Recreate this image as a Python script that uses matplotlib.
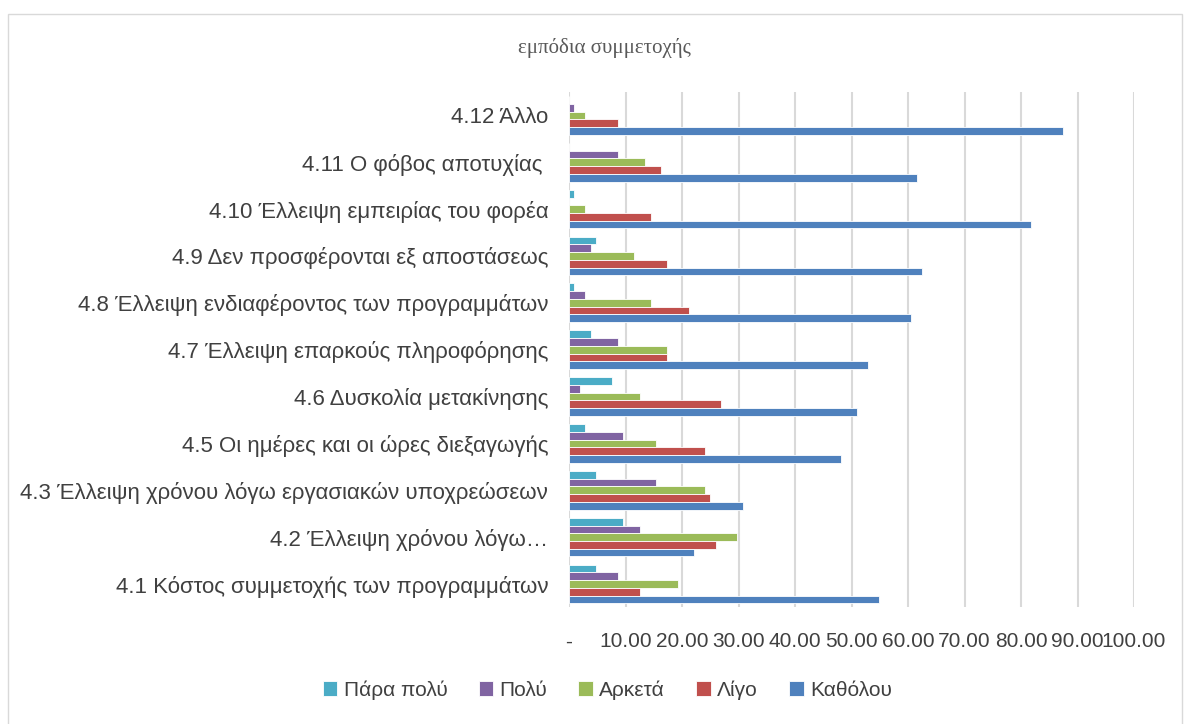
import matplotlib.pyplot as plt
import matplotlib.patches as patches
import numpy as np

plt.rcParams['font.family'] = ['Liberation Sans', 'DejaVu Sans']

# categories, bottom to top as drawn
categories = [
    '4.1 Κόστος συμμετοχής των προγραμμάτων',
    '4.2 Έλλειψη χρόνου λόγω…',
    '4.3 Έλλειψη χρόνου λόγω εργασιακών υποχρεώσεων',
    '4.5 Οι ημέρες και οι ώρες διεξαγωγής',
    '4.6 Δυσκολία μετακίνησης',
    '4.7 Έλλειψη επαρκούς πληροφόρησης',
    '4.8 Έλλειψη ενδιαφέροντος των προγραμμάτων',
    '4.9 Δεν προσφέρονται εξ αποστάσεως',
    '4.10 Έλλειψη εμπειρίας του φορέα',
    '4.11 Ο φόβος αποτυχίας ',
    '4.12 Άλλο',
]

para_poly = [4.81, 9.62, 4.81, 2.88, 7.69, 3.85, 0.96, 4.81, 0.96, 0.00, 0.00]
poly      = [8.65, 12.50, 15.38, 9.62, 1.92, 8.65, 2.88, 3.85, 0.00, 8.65, 0.96]
arketa    = [19.23, 29.81, 24.04, 15.38, 12.50, 17.31, 14.42, 11.54, 2.88, 13.46, 2.88]
ligo      = [12.50, 25.96, 25.00, 24.04, 26.92, 17.31, 21.15, 17.31, 14.42, 16.35, 8.65]
katholou  = [54.81, 22.12, 30.77, 48.08, 50.96, 52.88, 60.58, 62.50, 81.73, 61.54, 87.50]

series = [
    ('Πάρα πολύ', para_poly, '#4BACC6'),
    ('Πολύ', poly, '#8064A2'),
    ('Αρκετά', arketa, '#9BBB59'),
    ('Λίγο', ligo, '#C0504D'),
    ('Καθόλου', katholou, '#4F81BD'),
]

xticks = [0, 10, 20, 30, 40, 50, 60, 70, 80, 90, 100]
xticklabels = ['-', '10.00', '20.00', '30.00', '40.00', '50.00', '60.00',
               '70.00', '80.00', '90.00', '100.00']

fig = plt.figure(figsize=(11.86, 7.24), dpi=100)
ax = fig.add_axes([0.4798, 0.161, 0.4764, 0.712])

y = np.arange(len(categories))
h = 0.165
for i, (name, vals, col) in enumerate(series):
    off = (2 - i) * h
    ax.barh(y + off, vals, height=h, color=col, label=name,
            edgecolor='white', linewidth=0.6)

ax.set_xlim(0, 100)
ax.set_ylim(-0.5, 10.5)
ax.set_yticks(y)
ax.set_yticklabels(categories, fontsize=16, color='#404040')
ax.set_xticks(xticks)
ax.set_xticklabels(xticklabels, fontsize=15, color='#404040')
ax.tick_params(length=0)
ax.tick_params(axis='x', pad=18)
ax.tick_params(axis='y', pad=15)
ax.xaxis.grid(True, color='#d9d9d9', linewidth=1.5)
ax.set_axisbelow(True)
for s in ax.spines.values():
    s.set_visible(False)

fig.text(0.51, 0.934, 'εμπόδια συμμετοχής', ha='center', va='center',
         fontsize=15, color='#595959', family=['Liberation Serif', 'DejaVu Serif'])

fig.legend(loc='center', bbox_to_anchor=(0.512, 0.047), ncol=5, frameon=False,
           fontsize=15, handlelength=0.7, handleheight=0.7, columnspacing=1.5,
           handletextpad=0.3, labelcolor='#404040')

# outer chart border
fig.patches.append(patches.Rectangle((0.007, -0.01), 0.99, 0.99, transform=fig.transFigure,
                                     fill=False, edgecolor='#d9d9d9', linewidth=1))

fig.savefig('out.png', dpi=100)
